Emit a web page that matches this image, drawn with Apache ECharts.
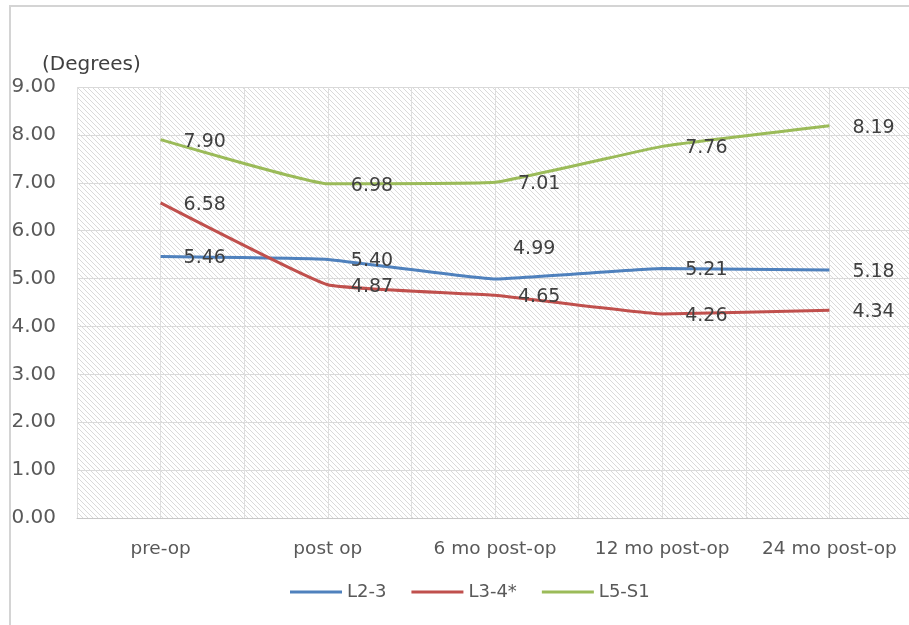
<!DOCTYPE html>
<html>
<head>
<meta charset="utf-8">
<script src="https://cdn.jsdelivr.net/npm/echarts@6/dist/echarts.min.js"></script>
<style>
  html, body { margin: 0; padding: 0; background: #ffffff; }
  #chart { width: 909px; height: 625px; }
</style>
</head>
<body>
<div id="chart"></div>
<script>
// Time points and segmental angles (degrees)
const categories = ['pre-op', 'post op', '6 mo post-op', '12 mo post-op', '24 mo post-op'];
const seriesNames = ['L2-3', 'L3-4*', 'L5-S1'];
const l23 = [5.46, 5.40, 4.99, 5.21, 5.18];
const l34 = [6.58, 4.87, 4.65, 4.26, 4.34];
const l5s1 = [7.90, 6.98, 7.01, 7.76, 8.19];
const yTicks = { min: 0, max: 9, interval: 1 };

const FONT = 'DejaVu Sans';
const colors = ['#4f81bd', '#c0504d', '#9bbb59'];

// Diagonal hatch fill for the plot area
function hatchPattern() {
  const c = document.createElement('canvas');
  const n = 5;
  c.width = n; c.height = n;
  const ctx = c.getContext('2d');
  ctx.fillStyle = '#ffffff';
  ctx.fillRect(0, 0, n, n);
  for (let i = 0; i < n; i++) {
    ctx.fillStyle = '#dadada';
    ctx.fillRect(i, i, 1, 1);
  }
  return { image: c, repeat: 'repeat' };
}

// half-category slots, used only to draw gridlines at boundaries and at time points
const gridSlots = [];
categories.forEach(function (c) { gridSlots.push(c + ' a', c + ' b'); });

function makeSeries(name, values, color, idx) {
  return {
    name: name,
    type: 'line',
    xAxisIndex: 0,
    data: values.map(function (v, i) {
      const d = { value: v };
      // the 6-month L2-3 value sits above its line
      if (idx === 0 && i === 2) {
        d.label = { offset: [-5, -30] };
      }
      return d;
    }),
    smooth: 0.1,
    symbol: 'circle',
    symbolSize: 0,
    lineStyle: { width: 3, color: color },
    itemStyle: { color: color },
    label: {
      show: true,
      position: 'right',
      distance: 23,
      offset: [0, 2],
      fontFamily: FONT,
      fontSize: 19,
      color: '#404040',
      formatter: function (p) { return p.value.toFixed(2); }
    },
    emphasis: { disabled: true },
    z: 3 + idx
  };
}

const chart = echarts.init(document.getElementById('chart'), null, { renderer: 'canvas' });

chart.setOption({
  animation: false,
  backgroundColor: '#ffffff',
  title: {
    text: '(Degrees)',
    left: 37,
    top: 50,
    textStyle: { fontFamily: FONT, fontSize: 20, fontWeight: 'normal', color: '#404040' }
  },
  graphic: [{
    type: 'rect',
    shape: { x: 10, y: 6, width: 960, height: 700 },
    style: { fill: 'none', stroke: '#d4d4d4', lineWidth: 2 },
    silent: true,
    z: -10
  }],
  legend: {
    data: seriesNames,
    left: 285,
    top: 578,
    icon: 'rect',
    itemWidth: 52,
    itemHeight: 3,
    itemGap: 25,
    textStyle: { fontFamily: FONT, fontSize: 18, color: '#595959' }
  },
  grid: {
    left: 77,
    top: 87,
    width: 836,
    height: 431,
    outerBoundsMode: 'none',
    show: true,
    backgroundColor: hatchPattern(),
    borderWidth: 0
  },
  xAxis: [{
    type: 'category',
    data: categories,
    boundaryGap: true,
    axisLine: { show: true, lineStyle: { color: '#c8c8c8', width: 1 } },
    axisTick: { show: false },
    axisLabel: { fontFamily: FONT, fontSize: 18.5, color: '#595959', margin: 22, interval: 0 },
    splitLine: { show: false },
    z: 2
  }, {
    type: 'category',
    data: gridSlots,
    boundaryGap: true,
    position: 'bottom',
    axisLine: { show: false },
    axisTick: { show: false },
    axisLabel: { show: false },
    splitLine: { show: true, interval: 0, lineStyle: { color: '#dedede', width: 1 } }
  }],
  yAxis: {
    type: 'value',
    min: yTicks.min,
    max: yTicks.max,
    interval: yTicks.interval,
    axisLine: { show: false },
    axisTick: { show: false },
    axisLabel: {
      fontFamily: FONT, fontSize: 20, color: '#595959', margin: 21,
      formatter: function (v) { return v.toFixed(2); }
    },
    splitLine: { show: true, lineStyle: { color: '#dadada', width: 1 } }
  },
  series: [
    makeSeries(seriesNames[0], l23, colors[0], 0),
    makeSeries(seriesNames[1], l34, colors[1], 1),
    makeSeries(seriesNames[2], l5s1, colors[2], 2)
  ]
});
</script>
</body>
</html>
